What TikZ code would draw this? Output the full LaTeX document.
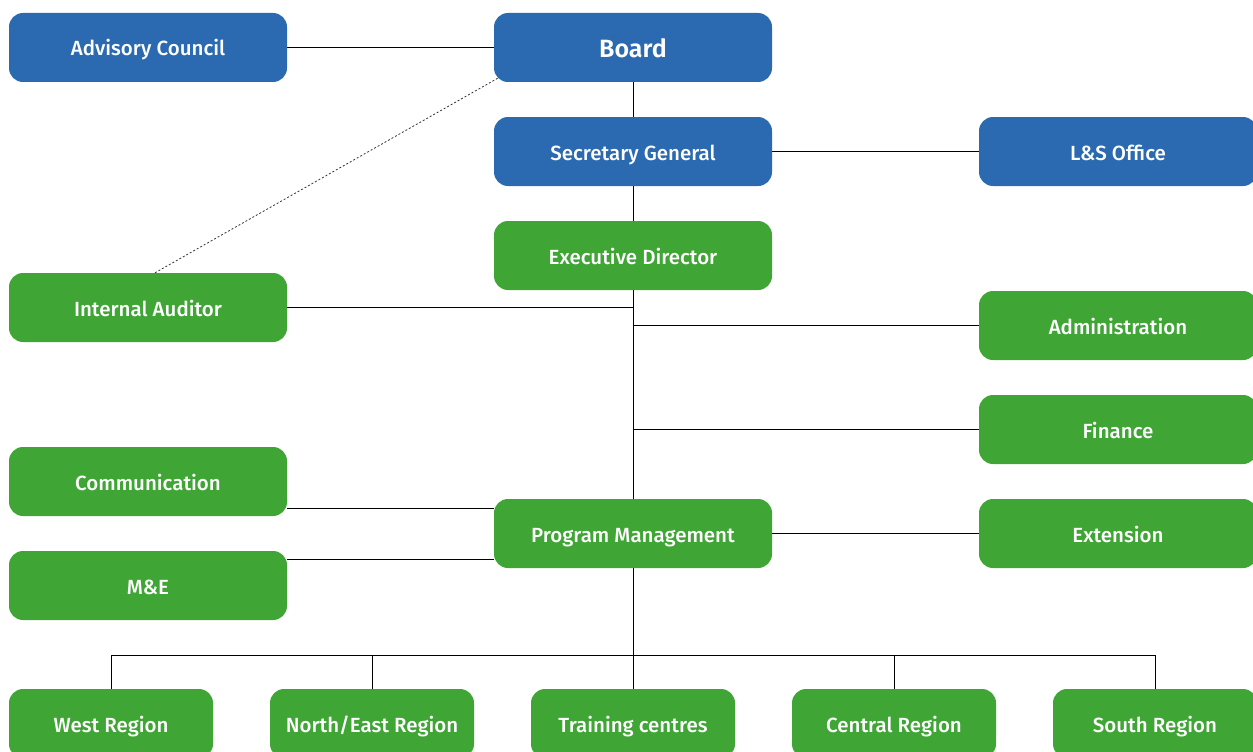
\documentclass[tikz,border=0pt]{standalone}
\usepackage{fontspec}
\setmainfont{Fira Sans}[UprightFont=* Medium]
\newfontfamily\boardfont{Fira Sans}[UprightFont=* SemiBold]
\usetikzlibrary{calc}
\definecolor{blu}{RGB}{43,106,176}
\definecolor{grn}{RGB}{63,165,53}
\tikzset{
  box/.style={rectangle, rounded corners=14pt, minimum width=278pt, minimum height=69pt,
    inner sep=0pt, text=white, text height=19pt, text depth=2pt,
    font=\fontsize{20.5}{24}\selectfont},
  bluebox/.style={box, fill=blu},
  greenbox/.style={box, fill=grn},
  regionbox/.style={greenbox, minimum width=204pt},
  link/.style={draw=black, line width=0.8pt},
  dotlink/.style={draw=black!80, line width=0.8pt, dash pattern=on 2pt off 2pt}
}
\begin{document}
\begin{tikzpicture}[x=1pt,y=-1pt]
\useasboundingbox (0,0) rectangle (1253,752);
% nodes
\node[bluebox] (adv) at (148,47.5) {Advisory Council};
\node[bluebox, font=\boardfont\fontsize{25}{30}\selectfont, text height=22pt, text depth=1pt] (board) at (633,47.5) {Board};
\node[bluebox] (sec) at (633,151.5) {Secretary General};
\node[bluebox] (ls) at (1118,151.5) {L\&S Office};
\node[greenbox] (exec) at (633,255.5) {Executive Director};
\node[greenbox] (ia) at (148,307.5) {Internal Auditor};
\node[greenbox] (adm) at (1118,325.5) {Administration};
\node[greenbox] (fin) at (1118,429.5) {Finance};
\node[greenbox] (com) at (148,481.5) {Communication};
\node[greenbox] (pm) at (633,533.5) {Program Management};
\node[greenbox] (ext) at (1118,533.5) {Extension};
\node[greenbox] (me) at (148,585.5) {M\&E};
\node[regionbox] (west) at (111,723.5) {West Region};
\node[regionbox] (ne) at (372,723.5) {North/East Region};
\node[regionbox] (tc) at (633,723.5) {Training centres};
\node[regionbox] (cen) at (894,723.5) {Central Region};
\node[regionbox] (south) at (1155,723.5) {South Region};
% connectors
\draw[link] (adv) -- (board);
\draw[link] (board) -- (sec);
\draw[link] (sec) -- (ls);
\draw[link] (sec) -- (exec);
\draw[link] (exec) -- (pm);
\draw[link] (ia.east) -- (ia.east -| exec.south);
\draw[link] (adm.west) -- (adm.west -| exec.south);
\draw[link] (fin.west) -- (fin.west -| exec.south);
\coordinate (pmA) at ($(pm.west)+(0,-25.5)$);
\coordinate (pmB) at ($(pm.west)+(0,25.5)$);
\draw[link] (com.east |- pmA) -- (pmA);
\draw[link] (me.east |- pmB) -- (pmB);
\draw[link] (pm) -- (ext);
\coordinate (bus) at ($(pm.south)+(0,87)$);
\draw[link] (pm.south) -- (bus);
\draw[link] (west.north |- bus) -- (south.north |- bus);
\foreach \r in {west,ne,cen,south}{
  \draw[link] (\r.north |- bus) -- (\r.north);
}
\draw[link] (bus) -- (tc.north);
\coordinate (auditTop) at ($(ia.north)+(7,0)$);
\coordinate (boardCorner) at ($(board.south west)+(4,-4)$);
\draw[dotlink] (auditTop) -- (boardCorner);
\end{tikzpicture}
\end{document}
